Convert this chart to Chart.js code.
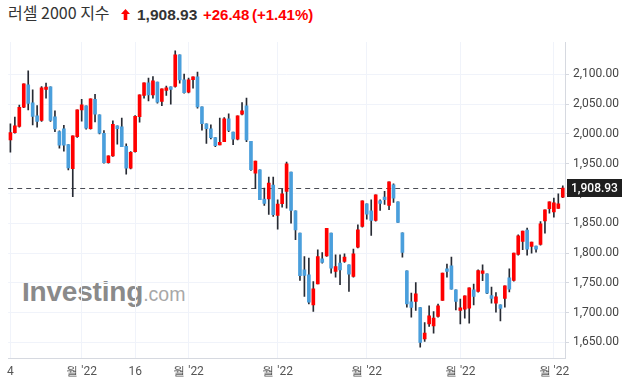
<!DOCTYPE html>
<html>
<head>
<meta charset="utf-8">
<script src="https://cdn.jsdelivr.net/npm/chart.js@4.4.1/dist/chart.umd.min.js"></script>
<style>
  body { margin: 0; background: #fff; }
  #wrap { position: relative; width: 629px; height: 387px; overflow: hidden; }
  #chart { position: absolute; left: 0; top: 0; z-index: 1; }
  .t { position: absolute; white-space: nowrap; line-height: 15px; }
  #name { left: 8px; top: 5px; font-family: 'Noto Sans CJK KR', sans-serif; font-size: 16px; color: #333; }
  #arrow { position: absolute; left: 121px; top: 9px; }
  #price { left: 137px; top: 7px; font-family: 'Liberation Sans', Arial, sans-serif; font-size: 15.5px; font-weight: bold; color: #333; }
  #chg { left: 203px; top: 7px; font-family: 'Liberation Sans', Arial, sans-serif; font-size: 15px; font-weight: bold; color: #ff0000; }
  #pct { left: 252px; top: 7px; font-family: 'Liberation Sans', Arial, sans-serif; font-size: 15px; font-weight: bold; color: #ff0000; }
  #logo { position: absolute; left: 22px; top: 276px; z-index: 0; white-space: nowrap; font-family: 'Liberation Sans', Arial, sans-serif; }
  #logo b { font-size: 28px; color: #8a8a8a; letter-spacing: -0.2px; }
  #logo span { font-size: 19.5px; color: #a8a8a8; }
</style>
</head>
<body>
<div id="wrap">
  <div class="t" id="name">러셀 2000 지수</div>
  <svg id="arrow" width="9" height="11" viewBox="0 0 9 11"><path d="M4.5 0 L9 5 L6.3 5 L6.3 11 L2.7 11 L2.7 5 L0 5 Z" fill="#ff0000"/></svg>
  <div class="t" id="price">1,908.93</div>
  <div class="t" id="chg">+26.48</div>
  <div class="t" id="pct">(+1.41%)</div>
  <div id="logo"><b>Investing</b><span>.com</span></div>
  <canvas id="chart" width="629" height="387"></canvas>
</div>
<script>
// --- Data (one entry per trading day) ---
const opens = [
  1989.8, 2002.0, 2012.2, 2044.6, 2082.1, 2051.9, 2030.1, 2022.3, 2074.3, 2078.7,
  2028.4, 2003.8, 2008.3, 1982.0, 1941.7, 1995.4, 2040.2, 2046.9, 2008.8, 2058.0,
  2031.8, 2001.0, 1951.8, 1963.0, 2013.3, 2011.6, 1979.2, 1942.3, 1970.2, 2028.9,
  2064.2, 2085.5, 2065.3, 2086.6, 2054.2, 2072.6, 2078.8, 2079.3, 2132.4, 2090.5,
  2069.9, 2091.0, 2095.5, 2045.2, 2016.7, 2008.3, 1993.7, 1981.4, 1987.0, 2025.1,
  2002.8, 1991.0, 2032.9, 2046.9, 1987.2, 1934.1, 1939.7, 1890.5, 1891.0, 1914.0,
  1863.1, 1882.7, 1903.4, 1935.8, 1870.9, 1833.4, 1771.9, 1763.5, 1713.2, 1748.4,
  1790.4, 1795.4, 1833.4, 1769.1, 1783.1, 1785.9, 1780.3, 1760.7, 1810.0, 1844.6,
  1882.7, 1870.9, 1854.7, 1887.7, 1893.8, 1879.9, 1914.5, 1886.0, 1834.0, 1770.2,
  1718.2, 1718.8, 1708.7, 1656.2, 1681.3, 1678.0, 1693.6, 1720.5, 1773.6, 1778.6,
  1738.4, 1703.7, 1705.9, 1707.6, 1738.4, 1735.6, 1765.8, 1765.2, 1728.9, 1716.0,
  1713.2, 1723.8, 1758.5, 1754.0, 1797.7, 1819.5, 1838.5, 1811.1, 1811.6, 1814.4,
  1854.1, 1874.3, 1869.2, 1874.8, 1893.8
];
const highs = [
  2016.7, 2027.9, 2048.0, 2084.0, 2105.6, 2073.7, 2047.4, 2079.3, 2084.9, 2079.0,
  2038.5, 2004.9, 2014.4, 1982.0, 1996.5, 2040.2, 2058.0, 2047.0, 2058.6, 2066.4,
  2032.0, 2005.5, 1963.0, 2021.7, 2013.3, 2026.2, 1983.1, 1970.2, 2030.6, 2065.3,
  2085.5, 2093.3, 2096.1, 2086.6, 2075.4, 2079.9, 2078.8, 2139.2, 2132.4, 2100.0,
  2093.3, 2095.5, 2103.4, 2045.2, 2016.7, 2015.0, 1993.7, 2026.2, 2027.3, 2033.4,
  2002.8, 2030.1, 2052.4, 2059.8, 1987.2, 1954.3, 1939.7, 1908.9, 1927.4, 1927.4,
  1889.4, 1907.3, 1952.6, 1935.8, 1870.9, 1833.4, 1794.3, 1791.5, 1752.3, 1805.5,
  1801.0, 1841.3, 1833.4, 1797.1, 1797.1, 1798.8, 1780.3, 1806.6, 1847.4, 1887.7,
  1882.7, 1889.4, 1897.8, 1889.4, 1903.4, 1919.6, 1916.2, 1886.0, 1834.0, 1770.2,
  1732.8, 1750.7, 1708.7, 1683.5, 1711.5, 1702.0, 1714.3, 1766.3, 1781.4, 1793.2,
  1738.4, 1722.7, 1728.3, 1741.7, 1747.9, 1771.9, 1780.3, 1765.2, 1742.8, 1733.9,
  1713.2, 1745.1, 1773.6, 1799.9, 1830.6, 1836.8, 1841.8, 1818.3, 1811.6, 1853.0,
  1872.6, 1886.0, 1892.2, 1899.4, 1912.9
];
const lows = [
  1969.1, 2001.0, 2011.0, 2044.0, 2040.2, 2015.0, 2011.0, 2021.0, 2059.7, 2021.0,
  2003.8, 1975.8, 1970.8, 1939.5, 1894.7, 1994.0, 2021.1, 2008.0, 2008.0, 2020.0,
  2000.0, 1950.7, 1950.7, 1962.0, 1982.6, 1978.6, 1932.2, 1941.2, 1969.1, 2019.5,
  2059.7, 2055.3, 2059.7, 2051.3, 2047.4, 2064.2, 2049.7, 2078.2, 2084.9, 2068.1,
  2068.7, 2076.5, 2043.0, 2006.0, 1983.7, 1991.5, 1978.6, 1981.4, 1987.0, 2003.8,
  1982.0, 1989.9, 2031.8, 1987.0, 1938.6, 1908.4, 1889.4, 1879.9, 1864.8, 1861.4,
  1840.2, 1877.1, 1875.4, 1850.2, 1822.3, 1754.0, 1727.2, 1714.9, 1702.0, 1748.4,
  1783.1, 1794.3, 1766.3, 1759.6, 1746.8, 1784.2, 1735.6, 1759.6, 1808.8, 1843.5,
  1856.9, 1829.5, 1853.6, 1871.5, 1881.5, 1872.6, 1884.9, 1851.3, 1793.2, 1709.3,
  1692.5, 1703.7, 1642.2, 1651.7, 1676.8, 1665.7, 1692.5, 1720.5, 1759.6, 1739.5,
  1704.8, 1681.3, 1690.8, 1682.4, 1713.2, 1734.5, 1753.5, 1731.7, 1716.0, 1700.9,
  1686.4, 1709.3, 1735.0, 1752.9, 1796.6, 1805.5, 1796.6, 1799.9, 1801.6, 1813.3,
  1833.4, 1867.0, 1860.3, 1874.8, 1892.7
];
const closes = [
  2002.1, 2013.3, 2044.6, 2083.8, 2050.8, 2029.0, 2020.6, 2077.0, 2078.2, 2022.3,
  2008.3, 1980.9, 1980.9, 1942.8, 1996.5, 2040.2, 2048.5, 2009.4, 2058.6, 2032.9,
  2001.0, 1951.8, 1963.0, 2016.1, 2008.8, 1978.6, 1942.3, 1969.1, 2029.5, 2065.3,
  2085.5, 2065.3, 2088.8, 2053.0, 2075.4, 2077.1, 2074.3, 2132.4, 2090.5, 2069.2,
  2090.5, 2095.5, 2045.2, 2017.2, 2008.8, 1993.7, 1980.3, 1985.9, 2025.0, 2005.5,
  1991.0, 2030.1, 2038.5, 1989.9, 1939.7, 1954.3, 1889.4, 1883.2, 1917.3, 1864.2,
  1882.1, 1899.4, 1949.8, 1871.5, 1839.0, 1761.9, 1762.4, 1717.7, 1740.0, 1794.3,
  1784.2, 1841.3, 1774.7, 1777.5, 1771.9, 1793.2, 1764.6, 1798.8, 1839.0, 1887.7,
  1865.3, 1854.7, 1897.8, 1883.2, 1889.4, 1919.6, 1892.2, 1851.3, 1801.0, 1714.9,
  1708.7, 1731.7, 1650.0, 1665.7, 1694.7, 1690.8, 1711.5, 1766.3, 1769.1, 1739.5,
  1718.8, 1708.2, 1728.3, 1741.7, 1727.2, 1770.8, 1770.2, 1732.8, 1723.8, 1726.6,
  1707.0, 1745.1, 1739.5, 1799.9, 1829.0, 1836.8, 1806.6, 1818.3, 1806.6, 1849.1,
  1872.6, 1886.0, 1884.3, 1882.7, 1908.93
];

// x-axis labels (index of the day -> text) and y-axis ticks
const xTickIdx  = [0, 16, 28, 40, 60, 80, 101, 122];
const xTickText = ['4', "월 '22", '16', "월 '22", "월 '22", "월 '22", "월 '22", "월 '22"];
const yTicks = [1650, 1700, 1750, 1800, 1850, 1900, 1950, 2000, 2050, 2100];

const UP = '#ff0000';
const DOWN = '#4a9fdc';

// build what the library needs
const labels = opens.map(() => '');
xTickIdx.forEach((i, k) => { labels[i] = xTickText[k]; });

const bodies = opens.map((o, i) => [o, closes[i]]);
const wicks = lows.map((l, i) => [l, highs[i]]);
const bodyColors = opens.map((o, i) => closes[i] >= o ? UP : DOWN);
const lastClose = closes[closes.length - 1];

const fmt = v => v.toLocaleString('en-US', { minimumFractionDigits: 2, maximumFractionDigits: 2 });

// dashed last-price line + dark price tag on the axis
const lastPricePlugin = {
    id: 'lastPrice',
    beforeDatasetsDraw(chart) {
        const { ctx, chartArea, scales: { y } } = chart;
        const yy = Math.round(y.getPixelForValue(lastClose)) + 0.5;
        ctx.save();
        ctx.strokeStyle = '#4a4d55';
        ctx.lineWidth = 1;
        ctx.setLineDash([5, 4]);
        ctx.beginPath();
        ctx.moveTo(chartArea.left, yy);
        ctx.lineTo(chartArea.right, yy);
        ctx.stroke();
        ctx.restore();
    },
    afterDraw(chart) {
        const { ctx, chartArea, scales: { y } } = chart;
        const yy = Math.round(y.getPixelForValue(lastClose));
        ctx.save();
        ctx.fillStyle = '#1f1f1f';
        ctx.fillRect(chartArea.right + 2, yy - 9, 55, 18);
        ctx.fillStyle = '#fff';
        ctx.font = '500 12px Roboto';
        ctx.textBaseline = 'middle';
        ctx.textAlign = 'left';
        ctx.fillText(fmt(lastClose), chartArea.right + 6, yy + 1);
        ctx.restore();
    }
};

Chart.defaults.font.family = 'Roboto';

const ctx = document.getElementById('chart').getContext('2d');
const candleChart = new Chart(ctx, {
    type: 'bar',
    data: {
        labels: labels,
        datasets: [
            {
                label: 'body',
                data: bodies,
                backgroundColor: bodyColors,
                barThickness: 3,
                minBarLength: 1,
                order: 0
            },
            {
                label: 'wick',
                data: wicks,
                backgroundColor: '#262a33',
                barThickness: 1,
                order: 1
            }
        ]
    },
    options: {
        responsive: false,
        animation: false,
        devicePixelRatio: 1,
        datasets: { bar: { grouped: false } },
        layout: { padding: { left: 8, top: 42, right: 0, bottom: 0 } },
        plugins: {
            legend: { display: false },
            tooltip: { enabled: false }
        },
        scales: {
            x: {
                offset: true,
                grid: {
                    offset: false,
                    drawTicks: false,
                    color: c => labels[c.index] ? '#f0f3fa' : 'rgba(0,0,0,0)'
                },
                border: { color: '#d6d9e0' },
                ticks: {
                    autoSkip: false,
                    maxRotation: 0,
                    minRotation: 0,
                    padding: 7,
                    color: '#555',
                    font: { size: 12 },
                    callback: (v, i) => labels[i]
                },
                afterFit: s => { s.height = 29; }
            },
            y: {
                position: 'right',
                min: 1624,
                max: 2154,
                afterBuildTicks: s => { s.ticks = yTicks.map(v => ({ value: v })); },
                grid: { color: '#f0f3fa', tickLength: 4, tickColor: '#d6d9e0' },
                border: { color: '#d6d9e0' },
                ticks: {
                    padding: 4,
                    color: '#444',
                    font: { size: 12 },
                    callback: v => fmt(v)
                },
                afterFit: s => { s.width = 64; }
            }
        }
    },
    plugins: [lastPricePlugin]
});
</script>
</body>
</html>
